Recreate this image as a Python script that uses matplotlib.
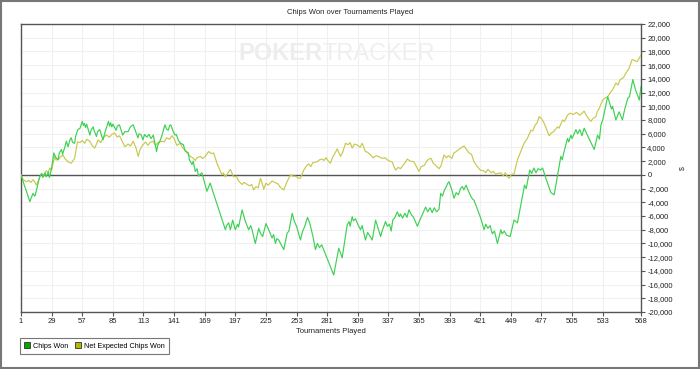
import matplotlib
matplotlib.use('Agg')
import matplotlib.pyplot as plt
from matplotlib.patches import Patch, Rectangle
from matplotlib.ticker import FuncFormatter

plt.rcParams['font.family'] = ['Liberation Sans', 'DejaVu Sans']

#############################
# data
#############################
title = "Chips Won over Tournaments Played"
xlabel = "Tournaments Played"
xticks = [1, 29, 57, 85, 113, 141, 169, 197, 225, 253, 281, 309, 337, 365,
          393, 421, 449, 477, 505, 533, 568]
yticks = list(range(-20000, 22001, 2000))

# chips won (tournament, chips)
won_t = [1, 4, 6, 9, 12, 13.5, 14, 18, 20, 21, 23, 24, 26, 27, 29, 31, 33, 35,
         36, 38, 39, 41, 42.5, 44, 46, 47, 48, 50, 51, 53, 55, 57, 58, 59, 60,
         61, 64, 65, 67, 68, 70, 71, 73, 76, 78, 81, 82, 83, 84, 85, 88, 89,
         91, 94, 96, 99, 101, 103.6, 105, 108, 109, 111, 112.5, 114, 116, 118,
         120, 122, 125, 126, 128, 130, 132.6, 134, 135.6, 137, 138, 140, 141.8,
         143, 145, 147, 149.5, 151, 154, 155, 157.4, 158.5, 160.4, 162, 163.4,
         165, 166.5, 168, 171, 172.5, 174, 176, 187.9, 189, 190.9, 192.5,
         194.6, 196, 197, 199, 200, 203.2, 206, 209.2, 211, 212, 215.3, 218.4,
         220, 222, 225, 228, 230.6, 232, 233.7, 235, 236.7, 238, 241.3, 244.4,
         246, 249, 251, 253, 256.6, 258, 260.5, 263, 265, 268, 270.3, 272,
         274, 276, 287, 291.6, 293, 294.7, 299.3, 301, 302, 303.9, 305, 307,
         309, 311.5, 313, 316, 318, 320, 322.2, 325.3, 327, 329.9, 331, 334.4,
         336, 338, 339.5, 341, 343, 345.1, 347, 348, 350, 352, 354, 355.8, 358,
         360, 363.5, 366, 368, 371, 373, 375, 377, 379, 381, 383.3, 384.8,
         386.5, 388, 390, 391, 392.4, 395, 397, 399, 401, 403, 404.7, 406, 408,
         410, 412.3, 413.8, 415.3, 421.4, 424.5, 426, 428, 430, 432, 434, 436.7,
         439.8, 441, 443, 445, 448.3, 451.9, 455, 461.5, 463, 466.3, 468, 470,
         472, 474, 476.3, 478, 481, 485.6, 488.6, 494.7, 496, 497, 500.8, 502,
         503.9, 505, 508.5, 510, 512, 514, 516, 519, 525.2, 528.3, 530, 531.4,
         533, 537.5, 541, 542, 545, 548, 551, 553, 556, 557.5, 560.5, 563,
         566.5, 568]
won_v = [0, -1500, -2400, -3900, -2700, -3100, -3000, -300, 200, -400, 300,
         -300, 400, -400, 1000, 3200, 2500, 2200, 3200, 3700, 3000, 4000, 4900,
         4100, 5200, 5400, 4800, 4600, 5600, 6600, 6800, 7800, 7200, 7500,
         6900, 7400, 5800, 6500, 7000, 6400, 5600, 6300, 6600, 5100, 6300,
         7800, 7100, 7600, 7000, 7400, 6500, 7100, 7300, 5800, 6300, 6300,
         7000, 7300, 6700, 5400, 6000, 5800, 5100, 5900, 5500, 5900, 5300,
         5800, 3400, 4300, 4900, 5800, 7300, 6700, 6500, 7200, 7300, 6400,
         5800, 5900, 5000, 4600, 4400, 3500, 3200, 2200, 1500, 2000, 500, 900,
         -200, 100, 300, -600, -2400, -1800, -1200, -2200, -8000, -7400, -7000,
         -8000, -6600, -7400, -8000, -7200, -7600, -5100, -6700, -8000, -7400,
         -7800, -10000, -7800, -8500, -9000, -7100, -8200, -9200, -8700,
         -10000, -9300, -9500, -9900, -10900, -8500, -8200, -5600, -6800,
         -7500, -9500, -8500, -7500, -6200, -7000, -9000, -10900, -10000,
         -10600, -10200, -14600, -10700, -11300, -12100, -7300, -6800, -7500,
         -6100, -6700, -6400, -7200, -8000, -7400, -9500, -8400, -8900, -9500,
         -6600, -7500, -9000, -8300, -6800, -7500, -7200, -8200, -6600, -6200,
         -5400, -6100, -5700, -6300, -5600, -6200, -5100, -5800, -6200, -7500,
         -6500, -5800, -4700, -5400, -4800, -5500, -4800, -5400, -5000, -2700,
         -3100, -2300, -1700, -1300, -1000, -2200, -3400, -2600, -2900, -2000,
         -1700, -2200, -1500, -2300, -3100, -3500, -3700, -6300, -8000, -7200,
         -7800, -7400, -8600, -8200, -10000, -8000, -8600, -8200, -8800, -9000,
         -6600, -7000, -1500, -2000, 700, 200, 1000, 300, 900, 700, 1000, -500,
         -2600, -2900, 2700, 2200, 3000, 5300, 4800, 5800, 5300, 6600, 6000,
         6600, 5700, 6800, 5800, 3700, 5800, 5200, 7300, 8000, 11400, 9600,
         10000, 8000, 9200, 8000, 9500, 11200, 11400, 13900, 12400, 10900,
         12900]

# net expected chips won (tournament, chips)
exp_t = [1, 3, 6, 8, 10, 12, 13.5, 15, 17, 19.6, 22, 24, 26, 27.3, 29, 31.8,
         33, 35, 37, 39.5, 41, 44, 47, 50, 52.6, 55, 57, 59.3, 61, 63.9, 66,
         68.5, 71.5, 74, 76, 79, 82, 84, 86.8, 89, 91, 93, 96, 99, 101, 103.6,
         106, 108.2, 109.7, 112, 115, 117, 119, 121.9, 124, 126, 129.5, 132,
         134.1, 137, 139, 141, 143.5, 146.6, 149, 151.2, 153, 155.8, 158,
         160.4, 162, 165, 167, 169.5, 172.6, 175, 177.2, 180.2, 182, 184.8,
         186, 187.9, 190, 192.4, 195.5, 198, 200, 203.2, 205, 207, 210, 212,
         213.8, 216, 218, 219.9, 221, 223, 225, 227, 230.6, 233, 236, 238,
         241.3, 244, 247.4, 250, 252, 255, 256.6, 259.6, 262, 264.2, 266, 268,
         271.9, 274, 276.4, 278, 280, 282, 284, 286, 288, 290.2, 293.2, 295,
         297.8, 300, 302, 303.9, 306, 309, 311, 313, 316, 318, 320.7, 323, 326,
         329, 331.4, 334, 336, 338, 340.5, 342, 343.6, 346, 348, 351, 354.3,
         357, 360.4, 363, 364.9, 367, 370, 372, 374.1, 376, 378, 380.2, 383.3,
         385, 387.9, 390, 392, 395, 397, 399, 401.5, 403, 406.1, 408, 410.7,
         413, 415.3, 418.4, 421, 424, 426, 428, 431, 433, 435, 437, 439.8, 442,
         444, 445.5, 447.4, 449, 452, 455, 458, 461.1, 464, 467.3, 469, 471,
         473, 474.9, 477, 479.5, 482, 484, 486, 488, 491.7, 493, 496.3, 498,
         500.8, 503, 506, 509, 512, 514, 516, 518, 520, 522.2, 524, 526.8, 528,
         529.8, 532.9, 535, 537.5, 540, 542, 545.1, 547, 549, 552, 555.2, 557,
         559.8, 562, 564.4, 566, 568]
exp_v = [0, -700, -1000, -800, -1100, -700, -1000, -1500, -800, 200, -100,
         600, 400, 1000, 700, 2700, 2200, 2200, 2600, 2900, 2400, 1900, 1700,
         2400, 4800, 4700, 5000, 4600, 5200, 4900, 4300, 3900, 5100, 4700,
         5400, 5800, 5500, 5900, 6100, 5500, 5700, 5100, 4100, 4500, 4200,
         4900, 4000, 2700, 3600, 4300, 4800, 4300, 4700, 4900, 4300, 4700,
         4900, 4800, 5400, 5200, 5700, 5300, 4300, 4600, 3900, 3600, 3200,
         2700, 2500, 2100, 2500, 2700, 2400, 2700, 3400, 3100, 3200, 1700,
         1000, 0, 300, -300, 200, 800, -300, -200, -900, -1400, -1100, -1300,
         -1600, -1400, -2200, -1700, -1900, -500, -900, -2100, -1200, -1500,
         -900, -1100, -1300, -1800, -2200, -1100, 0, -200, -200, -500, -500,
         700, 1300, 1600, 1200, 1800, 1900, 2200, 2300, 2100, 2500, 2000, 1700,
         2600, 3100, 3800, 2700, 3200, 4600, 4400, 4700, 3900, 4500, 4300,
         4000, 4600, 3400, 3300, 2900, 2500, 2800, 2600, 2400, 2500, 2200,
         2000, 1900, 1200, 700, 1100, 900, 1500, 2300, 2000, 1900, 1100, 500,
         1200, 1400, 2000, 2300, 2400, 1700, 1400, 900, 1300, 2900, 2500, 2800,
         2400, 3200, 3400, 3700, 3900, 4200, 3800, 3200, 3000, 1900, 1200, 700,
         600, 300, 800, 300, 500, 100, 200, 300, -100, 300, -200, -500, 0, 200,
         2200, 3400, 4600, 5300, 6500, 6400, 7200, 7600, 8500, 8200, 7500,
         6500, 5700, 6100, 6300, 7000, 6800, 8000, 7800, 8700, 9000, 8800,
         9100, 8700, 9000, 9300, 8700, 8200, 7800, 8200, 8500, 9200, 9700,
         10900, 11200, 11400, 12000, 12400, 13400, 13100, 13900, 14200, 15100,
         15500, 16800, 16700, 16500, 16900, 17500]

#############################
# plot
#############################
fig = plt.figure(figsize=(7.0, 3.69), dpi=100)
ax = fig.add_axes([21/700., 1-312/369., 620/700., 288/369.])

ax.plot(exp_t, exp_v, color='#c8c84c', lw=0.85, zorder=3)
ax.plot(won_t, won_v, color='#3cd152', lw=0.85, zorder=4)
ax.axhline(0, color='#555555', lw=1.0, zorder=2)

ax.set_xlim(1, 568)
ax.set_ylim(-20000, 22000)
ax.set_xticks(xticks)
ax.set_yticks(yticks)
ax.grid(True, color='#f0f0f0', lw=0.8, zorder=0)
ax.set_axisbelow(True)

ax.yaxis.tick_right()
ax.yaxis.set_major_formatter(FuncFormatter(lambda v, p: format(int(v), ',')))
ax.tick_params(axis='both', labelsize=5.5, length=3, width=0.8,
               color='#555555', labelcolor='#222222', pad=1.5)
for s in ax.spines.values():
    s.set_color('#555555')
    s.set_linewidth(1.0)

ax.set_xlabel(xlabel, fontsize=5.5, labelpad=2, color='#222222')
ax.yaxis.set_label_position('right')
ax.set_ylabel('\\$', fontsize=5, rotation=90, labelpad=5, color='#333333')

# watermark
ax.text(0.4855, 0.896, 'POKER', transform=ax.transAxes, fontsize=17,
        fontweight='bold', color='#ededed', ha='right', va='center', zorder=1)
ax.text(0.4855, 0.896, 'TRACKER', transform=ax.transAxes, fontsize=17,
        color='#efefef', ha='left', va='center', zorder=1)

fig.text(0.5, 1-13/369., title, fontsize=5.5, ha='center', va='center',
         color='#222222')

handles = [Patch(facecolor='#00a800', edgecolor='#333333', lw=0.6),
           Patch(facecolor='#b8b800', edgecolor='#333333', lw=0.6)]
leg = fig.legend(handles, ['Chips Won', 'Net Expected Chips Won'],
                 loc='upper left', bbox_to_anchor=(20/700., 1-338/369.),
                 ncol=2, fontsize=5.2, frameon=True, fancybox=False,
                 handlelength=0.8, handleheight=0.8, handletextpad=0.4,
                 columnspacing=1.0, borderpad=0.6, borderaxespad=0)
leg.get_frame().set_edgecolor('#555555')
leg.get_frame().set_linewidth(0.8)

# outer border
fig.patches.append(Rectangle((0.001, 0.002), 0.997, 0.996,
                             transform=fig.transFigure, fill=False,
                             edgecolor='#777777', lw=1.5))

plt.savefig('out.png', dpi=100)
plt.close()
